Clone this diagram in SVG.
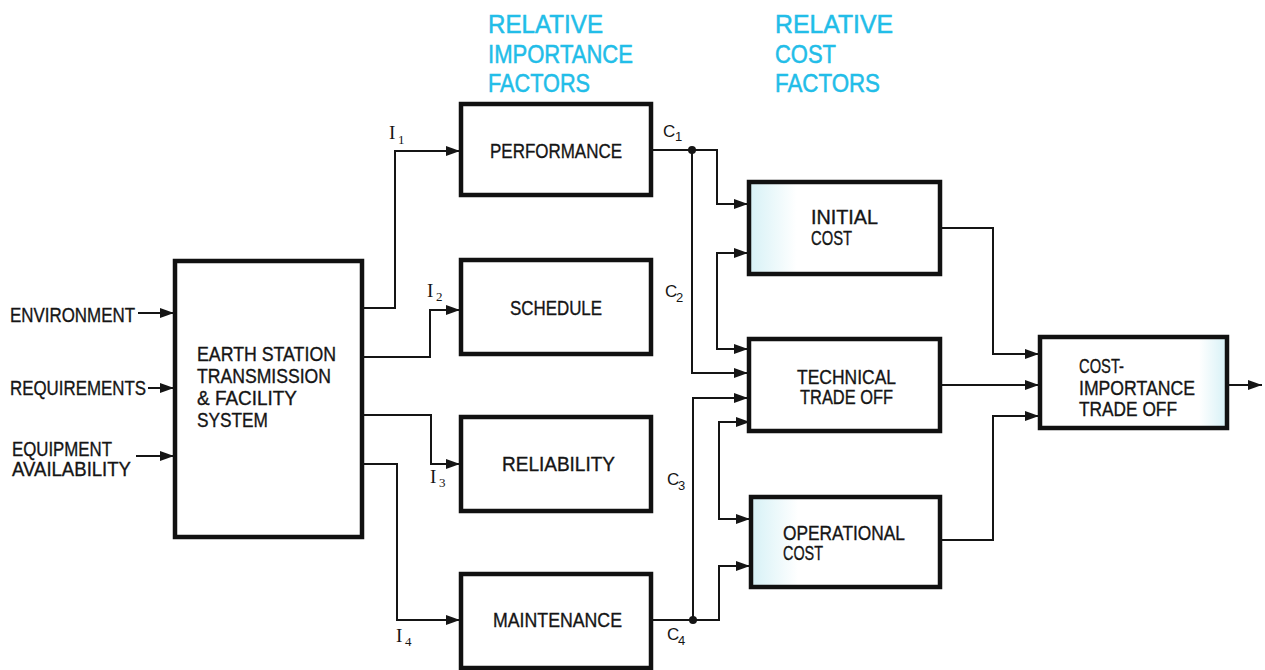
<svg xmlns="http://www.w3.org/2000/svg" width="1265" height="670" viewBox="0 0 1265 670">
<style>
.box{fill:#fff;stroke:#111;stroke-width:4.5}
.cbox{stroke:#111;stroke-width:4.5}
.lbl{font-family:"Liberation Sans",Arial,sans-serif;font-size:20px;fill:#151515;stroke:#151515;stroke-width:0.35}
.hdr{font-family:"Liberation Sans",Arial,sans-serif;font-size:25px;fill:#22bde8;stroke:#22bde8;stroke-width:0.5}
.ser{font-family:"Liberation Serif","Times New Roman",serif;font-size:19px;fill:#151515}
.cs{font-family:"Liberation Sans",Arial,sans-serif;font-size:17px;fill:#151515}
.sub{font-size:13px}
.ln{fill:none;stroke:#151515;stroke-width:2}
.ar{marker-end:url(#ah)}
.ar2{marker-end:url(#ah);marker-start:url(#ah)}
</style>
<defs>
<marker id="ah" markerUnits="userSpaceOnUse" markerWidth="16" markerHeight="12" refX="14" refY="5" orient="auto-start-reverse">
<path d="M0,0 L14,5 L0,10 z" fill="#151515"/>
</marker>
<linearGradient id="cy" x1="0" y1="0" x2="1" y2="0">
<stop offset="0" stop-color="#d6f1f6"/>
<stop offset="0.25" stop-color="#ffffff"/>
<stop offset="1" stop-color="#ffffff"/>
</linearGradient>
<linearGradient id="cy2" x1="0" y1="0" x2="1" y2="0">
<stop offset="0" stop-color="#ffffff"/>
<stop offset="0.85" stop-color="#ffffff"/>
<stop offset="1" stop-color="#d6f1f6"/>
</linearGradient>
</defs>
<rect width="1265" height="670" fill="#fff"/>

<g id="headers">
<text class="hdr" x="488" y="33" textLength="115" lengthAdjust="spacingAndGlyphs">RELATIVE</text>
<text class="hdr" x="488" y="63" textLength="145" lengthAdjust="spacingAndGlyphs">IMPORTANCE</text>
<text class="hdr" x="488" y="92" textLength="102" lengthAdjust="spacingAndGlyphs">FACTORS</text>
<text class="hdr" x="775" y="33" textLength="118" lengthAdjust="spacingAndGlyphs">RELATIVE</text>
<text class="hdr" x="775" y="63" textLength="61" lengthAdjust="spacingAndGlyphs">COST</text>
<text class="hdr" x="775" y="92" textLength="105" lengthAdjust="spacingAndGlyphs">FACTORS</text>
</g>

<g id="inputs">
<text class="lbl" x="10" y="322" textLength="125" lengthAdjust="spacingAndGlyphs">ENVIRONMENT</text>
<text class="lbl" x="10" y="395" textLength="136" lengthAdjust="spacingAndGlyphs">REQUIREMENTS</text>
<text class="lbl" x="12" y="456" textLength="100" lengthAdjust="spacingAndGlyphs">EQUIPMENT</text>
<text class="lbl" x="12" y="476" textLength="119" lengthAdjust="spacingAndGlyphs">AVAILABILITY</text>
</g>

<g id="earth-station">
<rect class="box" x="175" y="261" width="187" height="276"/>
<text class="lbl" x="197" y="361" textLength="139" lengthAdjust="spacingAndGlyphs">EARTH STATION</text>
<text class="lbl" x="197" y="383" textLength="134" lengthAdjust="spacingAndGlyphs">TRANSMISSION</text>
<text class="lbl" x="197" y="405" textLength="100" lengthAdjust="spacingAndGlyphs">&amp; FACILITY</text>
<text class="lbl" x="197" y="427" textLength="71" lengthAdjust="spacingAndGlyphs">SYSTEM</text>
</g>

<g id="performance">
<rect class="box" x="461" y="104" width="190" height="91"/>
<text class="lbl" x="490" y="158" textLength="132" lengthAdjust="spacingAndGlyphs">PERFORMANCE</text>
</g>
<g id="schedule">
<rect class="box" x="461" y="260" width="190" height="94"/>
<text class="lbl" x="510" y="315" textLength="92" lengthAdjust="spacingAndGlyphs">SCHEDULE</text>
</g>
<g id="reliability">
<rect class="box" x="461" y="417" width="190" height="94"/>
<text class="lbl" x="502" y="471" textLength="113" lengthAdjust="spacingAndGlyphs">RELIABILITY</text>
</g>
<g id="maintenance">
<rect class="box" x="461" y="574" width="190" height="94"/>
<text class="lbl" x="493" y="627" textLength="129" lengthAdjust="spacingAndGlyphs">MAINTENANCE</text>
</g>

<g id="initial-cost">
<rect class="cbox" x="749" y="182" width="191" height="92" fill="url(#cy)"/>
<text class="lbl" x="811" y="224" textLength="67" lengthAdjust="spacingAndGlyphs">INITIAL</text>
<text class="lbl" x="811" y="245" textLength="41" lengthAdjust="spacingAndGlyphs">COST</text>
</g>
<g id="technical-trade-off">
<rect class="box" x="749" y="339" width="191" height="92"/>
<text class="lbl" x="797" y="384" textLength="99" lengthAdjust="spacingAndGlyphs">TECHNICAL</text>
<text class="lbl" x="800" y="404" textLength="93" lengthAdjust="spacingAndGlyphs">TRADE OFF</text>
</g>
<g id="operational-cost">
<rect class="cbox" x="751" y="497" width="189" height="90" fill="url(#cy)"/>
<text class="lbl" x="783" y="540" textLength="122" lengthAdjust="spacingAndGlyphs">OPERATIONAL</text>
<text class="lbl" x="783" y="560" textLength="40" lengthAdjust="spacingAndGlyphs">COST</text>
</g>
<g id="cost-importance">
<rect class="cbox" x="1040" y="337" width="187" height="91" fill="url(#cy2)"/>
<text class="lbl" x="1079" y="373" textLength="45" lengthAdjust="spacingAndGlyphs">COST-</text>
<text class="lbl" x="1079" y="395" textLength="116" lengthAdjust="spacingAndGlyphs">IMPORTANCE</text>
<text class="lbl" x="1079" y="416" textLength="98" lengthAdjust="spacingAndGlyphs">TRADE OFF</text>
</g>

<g id="connectors">
<path class="ln ar" d="M138,313 H174"/>
<path class="ln ar" d="M148,388 H174"/>
<path class="ln ar" d="M136,456 H174"/>
<path class="ln ar" d="M362,308 H395 V151 H460"/>
<path class="ln ar" d="M362,357 H430 V310 H460"/>
<path class="ln ar" d="M362,415 H431 V464 H460"/>
<path class="ln ar" d="M362,464 H397 V620 H460"/>
<path class="ln ar" d="M651,150 H717 V204 H748"/>
<path class="ln ar" d="M692,150 V373 H748"/>
<path class="ln ar2" d="M748,253 H717 V349 H748"/>
<path class="ln ar" d="M651,620 H719 V566 H750"/>
<path class="ln ar" d="M693,620 V398 H748"/>
<path class="ln ar2" d="M750,422 H719 V519 H750"/>
<path class="ln ar" d="M940,228 H993 V354 H1039"/>
<path class="ln ar" d="M940,385 H1039"/>
<path class="ln ar" d="M940,540 H993 V416 H1039"/>
<path class="ln ar" d="M1227,385 H1262"/>
<circle cx="692" cy="150" r="4" fill="#151515"/>
<circle cx="693" cy="620" r="4" fill="#151515"/>
</g>

<g id="port-labels">
<text class="ser" x="389" y="139">I<tspan class="sub" x="398" y="144">1</tspan></text>
<text class="ser" x="427" y="297">I<tspan class="sub" x="436" y="301">2</tspan></text>
<text class="ser" x="430" y="483">I<tspan class="sub" x="439" y="487">3</tspan></text>
<text class="ser" x="396" y="642">I<tspan class="sub" x="405" y="646">4</tspan></text>
<text class="cs" x="663" y="137">C<tspan class="sub" x="675" y="141">1</tspan></text>
<text class="cs" x="665" y="297">C<tspan class="sub" x="676" y="302">2</tspan></text>
<text class="cs" x="667" y="485">C<tspan class="sub" x="678" y="490">3</tspan></text>
<text class="cs" x="667" y="640">C<tspan class="sub" x="678" y="645">4</tspan></text>
</g>
</svg>
